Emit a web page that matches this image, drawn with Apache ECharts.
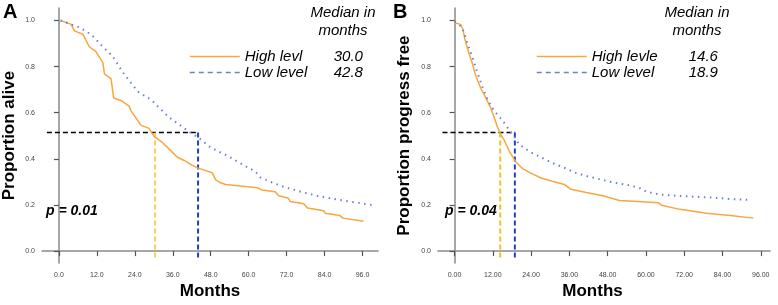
<!DOCTYPE html>
<html>
<head>
<meta charset="utf-8">
<script src="https://cdn.jsdelivr.net/npm/echarts@6/dist/echarts.min.js"></script>
<style>
  html, body { margin: 0; padding: 0; background: #fff; }
  #chart { width: 778px; height: 305px; }
</style>
</head>
<body>
<div id="chart"></div>
<script>
// panel A: overall survival
const highA = [[0.5,1.0],[3.9,0.983],[4.9,0.955],[7.6,0.94],[9.6,0.886],[11.7,0.865],[13.9,0.817],[14.4,0.768],[16.5,0.747],[17.3,0.664],[19.6,0.653],[22.2,0.629],[22.8,0.608],[24.9,0.567],[25.9,0.546],[28.5,0.532],[30.1,0.497],[32.8,0.47],[35.9,0.428],[37.5,0.407],[39.6,0.393],[42.2,0.372],[43.8,0.361],[48.5,0.34],[49.5,0.31],[51.1,0.296],[52.7,0.289],[57.4,0.282],[62.7,0.275],[64.2,0.265],[68.4,0.257],[69.5,0.24],[72.6,0.229],[73.2,0.215],[77.4,0.205],[78.6,0.187],[83.7,0.175],[84.2,0.164],[88.9,0.154],[89.8,0.143],[96.3,0.129]]
const lowA = [[0.5,1.0],[6.5,0.97],[10.2,0.939],[13.9,0.886],[17,0.845],[20.2,0.775],[24.9,0.692],[29.1,0.657],[32.2,0.615],[34.8,0.58],[41.1,0.518],[44.3,0.49],[48,0.449],[53.2,0.414],[58.5,0.372],[62.1,0.345],[63.7,0.32],[66.9,0.3],[71,0.279],[77.4,0.254],[81.6,0.24],[87.9,0.224],[94.2,0.21],[100,0.198]]
// panel B: progression free survival
const highB = [[0,0.99],[1.9,0.983],[2.6,0.962],[3.2,0.921],[4.5,0.858],[5.5,0.817],[6.6,0.761],[8.2,0.706],[9.8,0.664],[11.3,0.622],[12.4,0.58],[13.4,0.539],[14.5,0.504],[15.5,0.483],[17.1,0.435],[19.2,0.386],[21.3,0.358],[23.9,0.338],[27.1,0.317],[30.7,0.303],[34.4,0.289],[36.5,0.268],[41.3,0.254],[46.5,0.24],[51.7,0.219],[57.5,0.215],[63.8,0.21],[64.9,0.199],[70.6,0.181],[79,0.164],[86.4,0.154],[93.7,0.143]]
const lowB = [[0,0.995],[2.4,0.97],[4,0.9],[5.5,0.845],[7.1,0.775],[8.7,0.713],[10.3,0.657],[12.4,0.608],[15,0.567],[17.1,0.525],[18.7,0.497],[20.3,0.462],[23.9,0.428],[27.1,0.407],[30.7,0.382],[35,0.358],[38.1,0.338],[41.8,0.324],[45.4,0.312],[50.2,0.296],[54.9,0.285],[58.6,0.271],[60.2,0.257],[64.3,0.245],[70.6,0.239],[79.6,0.233],[86.4,0.226],[92.7,0.222]]

const monthTicks = [0, 12, 24, 36, 48, 60, 72, 84, 96]
const propTicks = [0, 0.2, 0.4, 0.6, 0.8, 1.0]

// median guide lines (where they are drawn in the figure)
const medLinesA = [30.4, 44.0]
const medLinesB = [14.3, 18.9]
const medLevel = 0.514
const guideStart = -3.8
const guideFloor = -0.03

const namesA = ['High levl', 'Low level']
const namesB = ['High levle', 'Low level']
const mediansA = ['30.0', '42.8']
const mediansB = ['14.6', '18.9']

const orange = '#f9a63e'
const dotBlue = '#6b80d8'
const font = 'Liberation Sans, Arial, sans-serif'

const chart = echarts.init(document.getElementById('chart'))

const makeX = (i, min, max, digits, pad) => ({
    type: 'value', gridIndex: i, min, max,
    name: 'Months', nameLocation: 'middle', nameGap: 15,
    nameTextStyle: { fontFamily: font, fontWeight: 'bold', fontSize: 17, color: '#000', padding: pad },
    axisLine: { lineStyle: { color: '#8a8a8a', width: 1.5 } },
    axisTick: { customValues: monthTicks, length: 5, lineStyle: { color: '#555', width: 1.2 } },
    axisLabel: { customValues: monthTicks, formatter: v => v.toFixed(digits), fontSize: 7, color: '#444', margin: 8, fontFamily: font },
    splitLine: { show: false }
})
const makeY = (i, title, gap) => ({
    type: 'value', gridIndex: i, min: -0.052, max: 1.054,
    name: title, nameLocation: 'middle', nameGap: gap,
    nameTextStyle: { fontFamily: font, fontWeight: 'bold', fontSize: 17, color: '#000' },
    axisLine: { show: true, lineStyle: { color: '#8a8a8a', width: 1.5 } },
    axisTick: { show: true, customValues: propTicks, length: 5, lineStyle: { color: '#555', width: 1.2 } },
    axisLabel: { customValues: propTicks, formatter: v => v.toFixed(1), fontSize: 7, color: '#444', margin: 7, fontFamily: font },
    splitLine: { show: false }
})

const curve = (name, i, data, color, type) => ({
    name, type: 'line', xAxisIndex: i, yAxisIndex: i, data,
    symbol: 'none', silent: true,
    itemStyle: { color },
    lineStyle: { color, width: type === 'solid' ? 1.5 : 2, type }
})
const guide = (i, data, color, width) => ({
    type: 'line', xAxisIndex: i, yAxisIndex: i, data,
    symbol: 'none', silent: true,
    lineStyle: { color, width, type: [5, 3] }
})

const legendFor = (left, names, meds, nameW) => ({
    left, top: 44, orient: 'vertical',
    data: [
        { name: names[0], lineStyle: { width: 1.5 } },
        { name: names[1], lineStyle: { width: 1.5, type: [5, 4] } }
    ],
    itemWidth: 50, itemHeight: 14, itemGap: 1, selectedMode: false,
    itemStyle: { opacity: 0 },
    formatter: n => `{n|${n}}{v|${meds[names.indexOf(n)]}}`,
    textStyle: {
        color: '#000',
        rich: {
            n: { width: nameW, fontSize: 15, fontStyle: 'italic', fontFamily: font, color: '#000' },
            v: { fontSize: 15, fontStyle: 'italic', fontFamily: font, color: '#000' }
        }
    }
})

const txt = (x, y, text, size, weight, style, align) => ({
    type: 'text', x, y,
    style: { text, fontSize: size, fontWeight: weight, fontStyle: style, fontFamily: font, fill: '#000', align, verticalAlign: 'middle' }
})

chart.setOption({
    animation: false,
    grid: [
        { left: 40, top: 8, width: 338, bottom: 31.7 },
        { left: 438, top: 8, width: 332, bottom: 31.7 }
    ],
    xAxis: [makeX(0, -5.35, 100.9, 1, 0), makeX(1, -5.2, 98.9, 2, [0, 23, 0, 0])],
    yAxis: [makeY(0, 'Proportion alive', 24), makeY(1, 'Proportion progress free', 25)],
    legend: [legendFor(184, namesA, mediansA, 89), legendFor(531, namesB, mediansB, 97)],
    series: [
        guide(0, [[guideStart, medLevel], [medLinesA[1], medLevel]], '#000', 1.5),
        guide(0, [[medLinesA[0], medLevel], [medLinesA[0], guideFloor]], '#f5c21c', 1.5),
        guide(0, [[medLinesA[1], medLevel], [medLinesA[1], guideFloor]], '#1f3fd0', 2),
        curve(namesA[0], 0, highA, orange, 'solid'),
        curve(namesA[1], 0, lowA, dotBlue, [1.5, 4.5]),
        guide(1, [[guideStart, medLevel], [medLinesB[1], medLevel]], '#000', 1.5),
        guide(1, [[medLinesB[0], medLevel], [medLinesB[0], guideFloor]], '#f5c21c', 2),
        guide(1, [[medLinesB[1], medLevel], [medLinesB[1], guideFloor]], '#1f3fd0', 2),
        curve(namesB[0], 1, highB, orange, 'solid'),
        curve(namesB[1], 1, lowB, dotBlue, [1.5, 4.5])
    ],
    graphic: [
        txt(3, 12, 'A', 20, 'bold', 'normal', 'left'),
        txt(393, 12, 'B', 20, 'bold', 'normal', 'left'),
        txt(343, 13, 'Median in', 15, 'normal', 'italic', 'center'),
        txt(343, 31, 'months', 15, 'normal', 'italic', 'center'),
        txt(697, 13, 'Median in', 15, 'normal', 'italic', 'center'),
        txt(697, 31, 'months', 15, 'normal', 'italic', 'center'),
        txt(46, 211, 'p = 0.01', 14, 'bold', 'italic', 'left'),
        txt(445, 211, 'p = 0.04', 14, 'bold', 'italic', 'left')
    ]
})
</script>
</body>
</html>
